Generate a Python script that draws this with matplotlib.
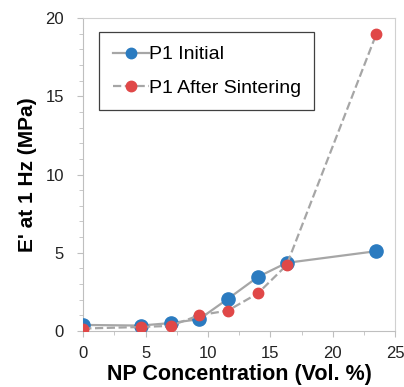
import matplotlib.pyplot as plt
from matplotlib.ticker import MultipleLocator

plt.rcParams['font.family'] = ['Liberation Sans', 'DejaVu Sans']

# NP concentration (Vol. %)
conc = [0, 4.6, 7.0, 9.3, 11.6, 14.0, 16.3, 23.5]
# E' at 1 Hz (MPa)
initial = [0.38, 0.34, 0.5, 0.75, 2.05, 3.45, 4.35, 5.1]
sintered = [0.15, 0.25, 0.32, 1.0, 1.3, 2.4, 4.2, 19.0]

fig = plt.figure(figsize=(4.04, 3.87), dpi=100)
ax = fig.add_axes([0.206, 0.145, 0.772, 0.808])

gray = '#a6a6a6'
ax.plot(conc, initial, '-', color=gray, lw=1.6, marker='o', ms=9.5,
        mfc='#2b7bc0', mec='#2b7bc0', label='P1 Initial', zorder=3)
ax.plot(conc, sintered, '--', color=gray, lw=1.6, marker='o', ms=7.5,
        mfc='#e04848', mec='#e04848', label='P1 After Sintering', zorder=4)

ax.set_xlim(0, 25)
ax.set_ylim(0, 20)
ax.xaxis.set_major_locator(MultipleLocator(5))
ax.xaxis.set_minor_locator(MultipleLocator(2.5))
ax.yaxis.set_major_locator(MultipleLocator(5))
ax.yaxis.set_minor_locator(MultipleLocator(1))
ax.tick_params(which='both', colors='#bfbfbf', labelcolor='#222222', labelsize=12)
ax.tick_params(which='major', length=4)
ax.tick_params(which='minor', length=3)
ax.tick_params(axis='y', pad=10)
ax.tick_params(axis='x', pad=7)
for s in ax.spines.values():
    s.set_color('#d0d0d0')
ax.spines['left'].set_color('#bfbfbf')
ax.spines['bottom'].set_color('#bfbfbf')

ax.set_xlabel('NP Concentration (Vol. %)', fontsize=15.5, fontweight='bold', labelpad=2)
ax.set_ylabel("E' at 1 Hz (MPa)", fontsize=15, fontweight='bold', labelpad=6)

leg = ax.legend(loc='upper left', bbox_to_anchor=(0.051, 0.955), fontsize=14,
                fancybox=False, framealpha=1, handlelength=1.85, handletextpad=0.0,
                borderpad=0.7, labelspacing=0.8, borderaxespad=0)
leg.get_frame().set_edgecolor('#404040')
leg.get_frame().set_linewidth(0.9)
for h in leg.legend_handles:
    h.set_markersize(7.5)

plt.savefig('out.png', dpi=100)
